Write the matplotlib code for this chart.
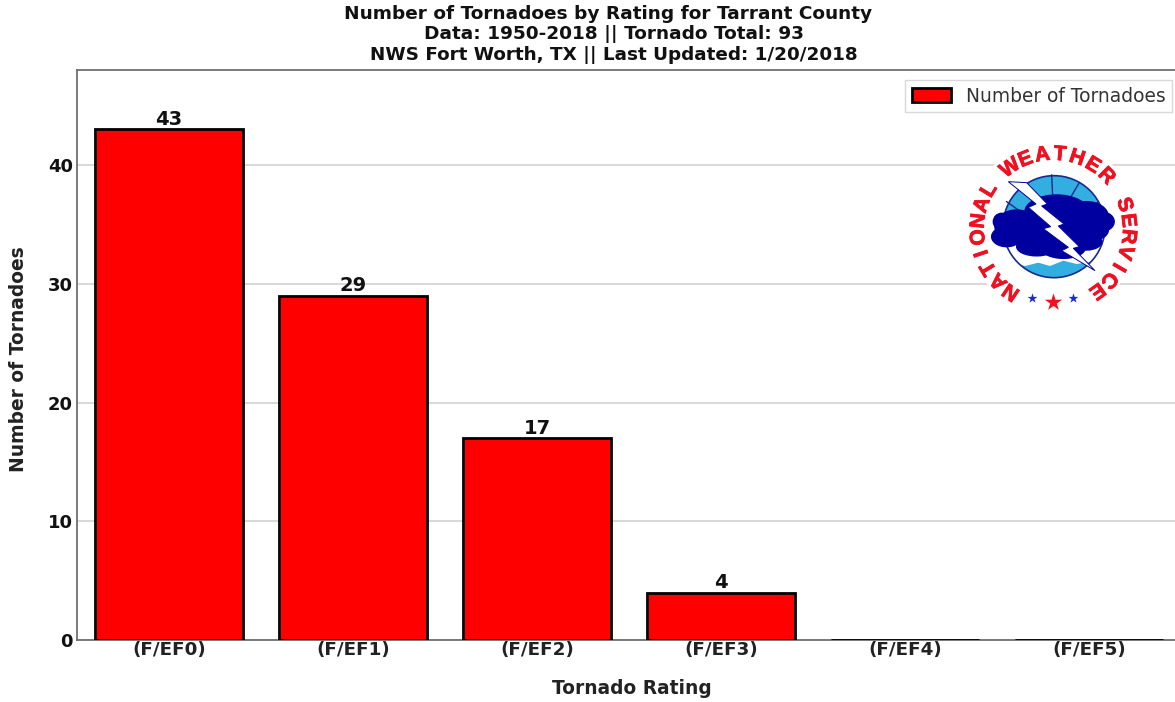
import matplotlib
matplotlib.use('Agg')
import matplotlib.pyplot as plt
import matplotlib.patheffects as pe
from matplotlib.patches import Circle, Ellipse, Polygon
import numpy as np

ratings = ['(F/EF0)', '(F/EF1)', '(F/EF2)', '(F/EF3)', '(F/EF4)', '(F/EF5)']
counts = [43, 29, 17, 4, 0, 0]
yticks = [0, 10, 20, 30, 40]
titleLines = ['Number of Tornadoes by Rating for Tarrant County',
              'Data: 1950-2018 || Tornado Total: 93',
              'NWS Fort Worth, TX || Last Updated: 1/20/2018']

W, H = 1175, 702
fig = plt.figure(figsize=(W / 100, H / 100), dpi=100)

# axes run a bit past the right edge of the picture, like the original crop
ax = fig.add_axes([77 / W, 1 - 640 / H, 1104 / W, 570 / H])
x = np.arange(len(ratings))
ax.bar(x, counts, width=0.8, color='red', edgecolor='black', linewidth=2,
       label='Number of Tornadoes', zorder=3, clip_on=True)
ax.set_xlim(-0.5, 5.5)
ax.set_ylim(0, 48)
ax.set_yticks(yticks)
ax.set_yticklabels([str(t) for t in yticks], fontsize=13, fontweight='bold', color='#111111')
ax.set_xticks(x)
ax.set_xticklabels(ratings, fontsize=13.2, fontweight='bold', color='#222222')
ax.tick_params(axis='both', length=0)
ax.tick_params(axis='x', pad=1)
ax.tick_params(axis='y', pad=3)
ax.grid(axis='y', color='#d2d2d2', linewidth=1.2, zorder=0)
for s in ax.spines.values():
    s.set_color('#707070')
    s.set_linewidth(1.3)

# value labels, nothing on the empty bars
for i, c in zip(x, counts):
    if c > 0:
        ax.text(i, c + 0.03, str(c), ha='center', va='bottom', fontsize=14,
                fontweight='bold', color='#111111', zorder=4)

leg = ax.legend(loc='upper right', bbox_to_anchor=(1172 / W, 1 - 80 / H),
                bbox_transform=fig.transFigure, fontsize=13.4, fancybox=False,
                framealpha=1, borderaxespad=0, handlelength=2.1,
                borderpad=0.35, edgecolor='#d8d8d8', handletextpad=0.8)
leg.set_zorder(6)
for t in leg.get_texts():
    t.set_color('#333333')

# titles and axis labels placed by pixel
def ptext(px, py, s, **kw):
    fig.text(px / W, 1 - py / H, s, ha='center', va='center', **kw)

ptext(608, 14, titleLines[0], fontsize=13.3, fontweight='bold', color='#111111')
ptext(614, 34, titleLines[1], fontsize=13.3, fontweight='bold', color='#111111')
ptext(614, 55, titleLines[2], fontsize=13.2, fontweight='bold', color='#111111')
ptext(632, 689, 'Tornado Rating', fontsize=13.4, fontweight='bold', color='#222222')
ptext(19, 359, 'Number of Tornadoes', fontsize=13.4, fontweight='bold', color='#222222', rotation=90)

# NWS logo, drawn in pixel coords on a see-through overlay
lg = fig.add_axes([0, 0, 1, 1], facecolor='none', zorder=5)
lg.set_xlim(0, W)
lg.set_ylim(H, 0)
lg.axis('off')

def z(zx, zy):
    return (960 + zx / 3, 130 + zy / 3)

navy = '#0000a0'
sky = '#33aee0'
cx, cy = z(282, 290)
lg.add_patch(Circle(z(280, 295), 86, color='white', zorder=1))
disc = Circle((cx, cy), 51, facecolor=sky, edgecolor='none', zorder=2)
lg.add_patch(disc)

# spokes in the sky part
for a, b in [((275, 135), (278, 200)), ((358, 158), (330, 205)), ((415, 215), (385, 240)),
             ((195, 160), (225, 205)), ((140, 215), (175, 240))]:
    lg.plot(*zip(z(*a), z(*b)), color='#1a2a90', linewidth=1, zorder=3)

# white band under the cloud
band = Polygon([z(*p) for p in [(110, 330), (450, 310), (450, 385), (395, 395), (350, 402), (310, 392),
                                (270, 408), (235, 398), (195, 408), (160, 398), (110, 385)]],
               facecolor='white', edgecolor='none', zorder=3)
lg.add_patch(band)
band.set_clip_path(disc)
lg.add_patch(Circle((cx, cy), 51, facecolor='none', edgecolor='#1a2a90', linewidth=1.2, zorder=3.5))

# cloud
for (ex, ey, ew, eh) in [(170, 290, 130, 100), (140, 320, 90, 60), (290, 245, 190, 100),
                         (380, 260, 130, 90), (430, 275, 65, 55), (280, 310, 260, 110),
                         (230, 350, 120, 55), (310, 355, 130, 60), (380, 335, 90, 50),
                         (125, 275, 50, 50), (400, 300, 90, 60)]:
    lg.add_patch(Ellipse(z(ex, ey), ew / 3, eh / 3, color=navy, zorder=4))

bolt = [(145, 155), (228, 222), (205, 232), (272, 290), (250, 296), (325, 352), (305, 362), (405, 422),
        (340, 355), (358, 350), (295, 288), (312, 282), (245, 228), (262, 222), (200, 158)]
lg.add_patch(Polygon([z(*p) for p in bolt], facecolor='white', edgecolor=navy, linewidth=0.7, zorder=5))

# ring lettering, angle is clockwise from straight up
def ring(word, start, end):
    rx, ry = z(280, 298)
    for a, ch in zip(np.linspace(start, end, len(word)), word):
        r = np.radians(a)
        t = lg.text(rx + 75 * np.sin(r), ry - 75 * np.cos(r), ch, rotation=-a, ha='center', va='center',
                    rotation_mode='anchor', fontsize=15, fontweight='bold', color='#f01020',
                    family=['Liberation Sans Narrow', 'Liberation Sans'], zorder=6)
        t.set_path_effects([pe.withStroke(linewidth=0.6, foreground='#f01020')])

ring('NATIONAL', -146, -58.6)
ring('WEATHER', -35, 45)
ring('SERVICE', 71, 144.5)

for p, col, sz in [((215, 505), '#1a2ad0', 55), ((278, 515), '#f01020', 170), ((340, 505), '#1a2ad0', 55)]:
    lg.scatter(*z(*p), marker='*', s=sz, color=col, linewidths=0, zorder=6)

fig.savefig('out.png', dpi=100)
